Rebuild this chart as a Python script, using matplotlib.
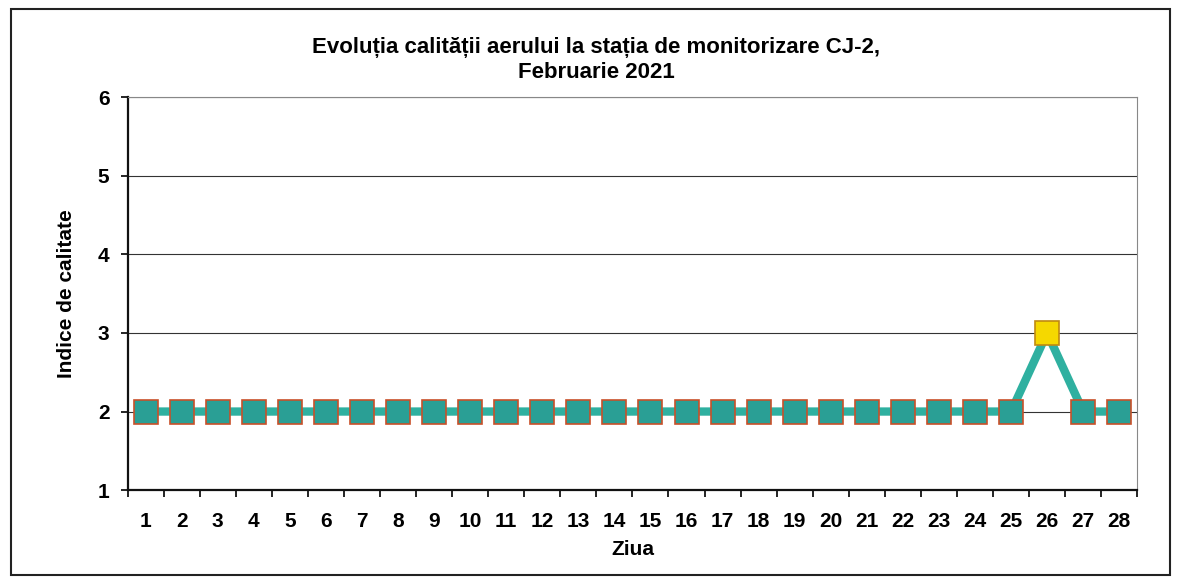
import matplotlib
matplotlib.use("Agg")
import matplotlib.pyplot as plt
from matplotlib.patches import Rectangle

days = list(range(1, 29))
index_values = [2, 2, 2, 2, 2, 2, 2, 2, 2, 2, 2, 2, 2, 2, 2, 2, 2, 2, 2, 2,
                2, 2, 2, 2, 2, 3, 2, 2]
yellow_days = [26]

plt.rcParams["font.family"] = ["Liberation Sans", "DejaVu Sans"]
plt.rcParams["font.weight"] = "bold"

fig = plt.figure(figsize=(11.81, 5.78), dpi=100)
ax = fig.add_axes([0.108, 0.152, 0.855, 0.68])

teal = "#2fb0a0"
ax.plot(days, index_values, color=teal, linewidth=6, zorder=2)
for d, v in zip(days, index_values):
    if d in yellow_days:
        face, edge = "#f5d800", "#c08a10"
    else:
        face, edge = "#2a9f95", "#c8502a"
    ax.plot(d, v, marker="s", markersize=17, markerfacecolor=face,
            markeredgecolor=edge, markeredgewidth=1.2, zorder=3)

ax.set_xlim(0.5, 28.5)
ax.set_ylim(1, 6)
ax.set_yticks(range(1, 7))
ax.set_xticks(days)
ax.set_xticks([d + 0.5 for d in range(0, 29)], minor=True)
ax.tick_params(axis="x", which="major", length=0, labelsize=15, pad=16)
ax.tick_params(axis="x", which="minor", length=5, direction="out", width=1.2)
ax.tick_params(axis="y", length=5, direction="out", labelsize=15, width=1.2, pad=8)
ax.yaxis.grid(True, color="#333333", linewidth=0.8)
ax.set_axisbelow(True)
for s in ["top", "right"]:
    ax.spines[s].set_color("#888888")
for s in ["left", "bottom"]:
    ax.spines[s].set_linewidth(1.6)
    ax.spines[s].set_color("#111111")

ax.set_xlabel("Ziua", fontsize=15, fontweight="bold", labelpad=6)
ax.set_ylabel("Indice de calitate", fontsize=15, fontweight="bold", labelpad=16)
fig.text(0.505, 0.897, "Evoluția calității aerului la stația de monitorizare CJ-2,\nFebruarie 2021",
         ha="center", va="center", fontsize=16, fontweight="bold", linespacing=1.25)

fig.patches.append(Rectangle((0.009, 0.005), 0.982, 0.98, transform=fig.transFigure,
                             fill=False, edgecolor="#222222", linewidth=1.5))

fig.savefig("out.png", dpi=100)
